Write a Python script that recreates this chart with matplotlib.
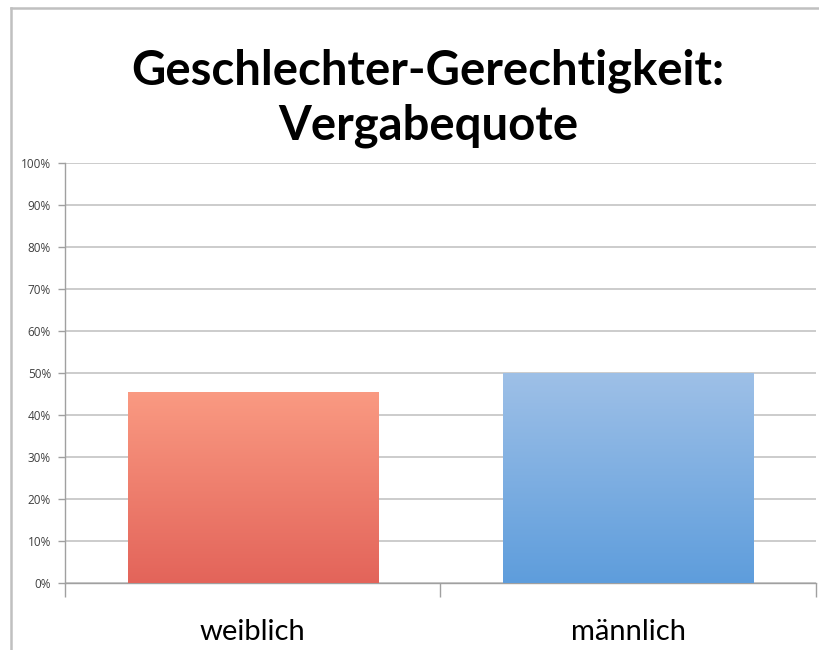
import numpy as np
import matplotlib
matplotlib.use("Agg")
import matplotlib.pyplot as plt
from matplotlib.colors import LinearSegmentedColormap
from matplotlib.lines import Line2D

title = "Geschlechter-Gerechtigkeit:\nVergabequote"
categories = ["weiblich", "männlich"]
values = [45.5, 50.0]
yticks = [0, 10, 20, 30, 40, 50, 60, 70, 80, 90, 100]
ytick_labels = [f"{v}%" for v in yticks]
grad_colors = [("#E3645A", "#FA9A82"), ("#5E9DDC", "#9EC0E7")]

W, H = 820, 650
fig = plt.figure(figsize=(W / 100, H / 100), dpi=100)
ax = fig.add_axes([65 / W, 1 - 583 / H, (816 - 65) / W, (583 - 163) / H])

ax.set_xlim(-0.5, 1.5)
ax.set_ylim(0, 100)

bars = ax.bar(range(len(categories)), values, width=0.667, color="none", edgecolor="none", zorder=2)
grad = np.linspace(0, 1, 256).reshape(-1, 1)
for b, (c0, c1) in zip(bars, grad_colors):
    cmap = LinearSegmentedColormap.from_list("g", [c0, c1])
    x0, y0 = b.get_x(), b.get_y()
    im = ax.imshow(grad, cmap=cmap, origin="lower", aspect="auto",
                   extent=[x0, x0 + b.get_width(), y0, y0 + b.get_height()], zorder=3)
    im.set_clip_path(b)

ax.set_xlim(-0.5, 1.5)
ax.set_ylim(0, 100)

ax.set_yticks(yticks)
ax.set_yticklabels(ytick_labels, fontsize=8.5, color="#404040", family="Open Sans")
ax.yaxis.grid(True, color="#C4C4C4", linewidth=1.2, zorder=0)
ax.set_axisbelow(True)
ax.tick_params(axis="y", length=5, width=1, color="#A0A0A0", pad=5)

ax.set_xticks(range(len(categories)))
ax.set_xticklabels(categories, fontsize=21, family="Lato", color="#000000")
ax.tick_params(axis="x", which="major", length=0, pad=26)
ax.set_xticks([-0.5, 0.5, 1.5], minor=True)
ax.tick_params(axis="x", which="minor", length=10, width=1, color="#A0A0A0", direction="out")

for s in ["top", "right"]:
    ax.spines[s].set_visible(False)
for s in ["left", "bottom"]:
    ax.spines[s].set_color("#A0A0A0")
    ax.spines[s].set_linewidth(1)

fig.text(428 / W, 1 - 98 / H, title, ha="center", va="center", fontsize=34,
         fontweight="bold", family="Lato", linespacing=1.3)

# outer frame lines
fig.add_artist(Line2D([11 / W, 11 / W], [0, 1 - 8 / H], transform=fig.transFigure, color="#C0C0C0", lw=1.8))
fig.add_artist(Line2D([11 / W, 1], [1 - 8 / H, 1 - 8 / H], transform=fig.transFigure, color="#C0C0C0", lw=1.8))

fig.savefig("out.png", dpi=100)
